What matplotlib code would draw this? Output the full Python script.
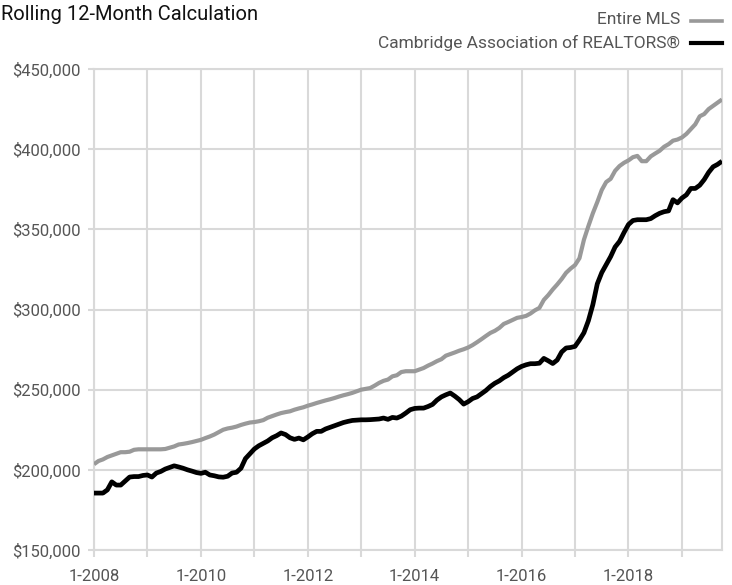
"""Rolling 12-month median price chart: Entire MLS vs Cambridge Association of REALTORS."""

import matplotlib
matplotlib.use("Agg")
import matplotlib.pyplot as plt
from matplotlib import font_manager
from matplotlib.ticker import FuncFormatter

# monthly values (thousands of $), 1-2008 .. 10-2019
entire_mls = [
    203.5, 205.5, 206.5, 208.0, 209.0, 210.0, 211.0, 211.0, 211.3, 212.5, 212.8, 212.8,  # 2008
    212.8, 212.8, 212.8, 212.8, 213.0, 213.8, 214.6, 215.8, 216.2, 216.7, 217.3, 218.0,  # 2009
    218.7, 219.8, 220.8, 222.0, 223.5, 225.0, 225.8, 226.3, 227.0, 228.0, 228.8, 229.5,  # 2010
    229.8, 230.3, 231.0, 232.5, 233.5, 234.5, 235.4, 236.0, 236.5, 237.5, 238.3, 239.0,  # 2011
    240.0, 240.8, 241.7, 242.5, 243.3, 244.0, 244.8, 245.7, 246.5, 247.2, 248.0, 249.0,  # 2012
    250.0, 250.5, 251.0, 252.5, 254.2, 255.5, 256.3, 258.3, 259.0, 261.0, 261.5, 261.5,  # 2013
    261.5, 262.5, 263.5, 265.0, 266.3, 267.8, 269.0, 271.2, 272.2, 273.2, 274.3, 275.2,  # 2014
    276.3, 277.8, 279.6, 281.5, 283.5, 285.4, 286.7, 288.5, 291.0, 292.2, 293.5, 294.8,  # 2015
    295.3, 296.0, 297.5, 299.5, 301.0, 306.0, 309.0, 312.5, 315.6, 319.0, 322.9, 325.5,  # 2016
    327.7, 332.0, 343.5, 352.0, 360.0, 367.0, 374.5, 379.5, 381.5, 386.5, 389.5, 391.5,  # 2017
    393.0, 395.0, 395.8, 392.5, 392.5, 395.5, 397.3, 399.0, 401.5, 403.1, 405.3, 406.0,  # 2018
    407.3, 409.5, 412.5, 415.5, 420.5, 421.9, 425.0, 427.0, 429.0, 431.0,                # 2019
]
cambridge = [
    185.5, 185.5, 185.5, 187.5, 192.5, 190.5, 190.5, 193.0, 195.5, 195.8, 195.8, 196.5,  # 2008
    196.8, 195.5, 198.0, 199.0, 200.5, 201.5, 202.5, 201.8, 201.0, 200.0, 199.2, 198.3,  # 2009
    197.8, 198.5, 196.8, 196.3, 195.6, 195.4, 196.0, 198.0, 198.5, 201.0, 207.0, 210.0,  # 2010
    213.0, 215.0, 216.5, 218.0, 220.0, 221.3, 223.0, 222.0, 220.0, 219.0, 219.8, 218.7,  # 2011
    220.5, 222.5, 224.0, 224.0, 225.5, 226.5, 227.5, 228.5, 229.5, 230.2, 230.8, 231.0,  # 2012
    231.2, 231.2, 231.3, 231.5, 231.7, 232.3, 231.5, 232.7, 232.3, 233.5, 235.4, 237.5,  # 2013
    238.3, 238.5, 238.5, 239.5, 240.8, 243.5, 245.5, 246.8, 247.9, 246.0, 243.8, 241.0,  # 2014
    242.5, 244.5, 245.5, 247.5, 249.5, 252.0, 254.0, 255.5, 257.5, 259.0, 261.0, 263.0,  # 2015
    264.5, 265.5, 266.2, 266.2, 266.5, 269.5, 268.0, 266.3, 268.5, 273.5, 276.0, 276.3,  # 2016
    277.0, 281.0, 285.5, 293.0, 303.0, 316.0, 323.0, 328.0, 333.0, 339.0, 342.5, 348.0,  # 2017
    353.0, 355.5, 356.0, 356.0, 356.0, 356.7, 358.5, 360.0, 361.0, 361.5, 368.5, 366.5,  # 2018
    369.5, 371.5, 375.5, 375.5, 377.5, 381.0, 385.5, 389.0, 390.5, 392.5,                # 2019
]
n_months = len(entire_mls)

years = list(range(2008, 2020))
y_ticks = [150000, 200000, 250000, 300000, 350000, 400000, 450000]

GRID = "#d9d9d9"
TEXT = "#555555"

installed = {f.name for f in font_manager.fontManager.ttflist}
family = "Liberation Sans Narrow" if "Liberation Sans Narrow" in installed else "Roboto"
plt.rcParams["font.family"] = [family, "DejaVu Sans"]

fig = plt.figure(figsize=(7.32, 5.85), dpi=100)
ax = fig.add_axes([94 / 732, 35 / 585, 628 / 732, 481 / 585])

x = list(range(n_months))
ax.plot(x, [v * 1000 for v in entire_mls], color="#999999", lw=3.0,
        solid_joinstyle="round", solid_capstyle="butt", zorder=3)
ax.plot(x, [v * 1000 for v in cambridge], color="#000000", lw=3.4,
        solid_joinstyle="round", solid_capstyle="butt", zorder=4)

ax.set_xlim(0, n_months - 1)
ax.set_ylim(y_ticks[0], y_ticks[-1])
ax.set_yticks(y_ticks)
ax.yaxis.set_major_formatter(FuncFormatter(lambda v, _: f"${v:,.0f}"))
xt = [12 * i for i in range(len(years))]
ax.set_xticks(xt)
ax.set_xticklabels([f"1-{y}" if (y - 2008) % 2 == 0 else "" for y in years])

ax.grid(True, color=GRID, lw=1.5, zorder=0)
for s in ax.spines.values():
    s.set_color(GRID)
    s.set_linewidth(1.5)
ax.tick_params(axis="both", color=GRID, width=1.5, labelcolor=TEXT, labelsize=12)
ax.tick_params(axis="x", length=5, pad=9)
ax.tick_params(axis="y", length=4.5, pad=5)

fig.text(1 / 732, 1 - 14 / 585, "Rolling 12-Month Calculation", fontsize=14.5,
         color="#111111", va="center", ha="left")
fig.text(680 / 732, 1 - 20 / 585, "Entire MLS", fontsize=12.5, color=TEXT,
         va="center", ha="right")
fig.text(680 / 732, 1 - 43 / 585, "Cambridge Association of REALTORS®", fontsize=12.5,
         color=TEXT, va="center", ha="right")
fig.add_artist(plt.Line2D([691 / 732, 722 / 732], [1 - 21 / 585] * 2,
                          color="#999999", lw=2.6, transform=fig.transFigure))
fig.add_artist(plt.Line2D([691 / 732, 722 / 732], [1 - 43 / 585] * 2,
                          color="#000000", lw=3.0, transform=fig.transFigure))

fig.savefig("out.png", dpi=100)
